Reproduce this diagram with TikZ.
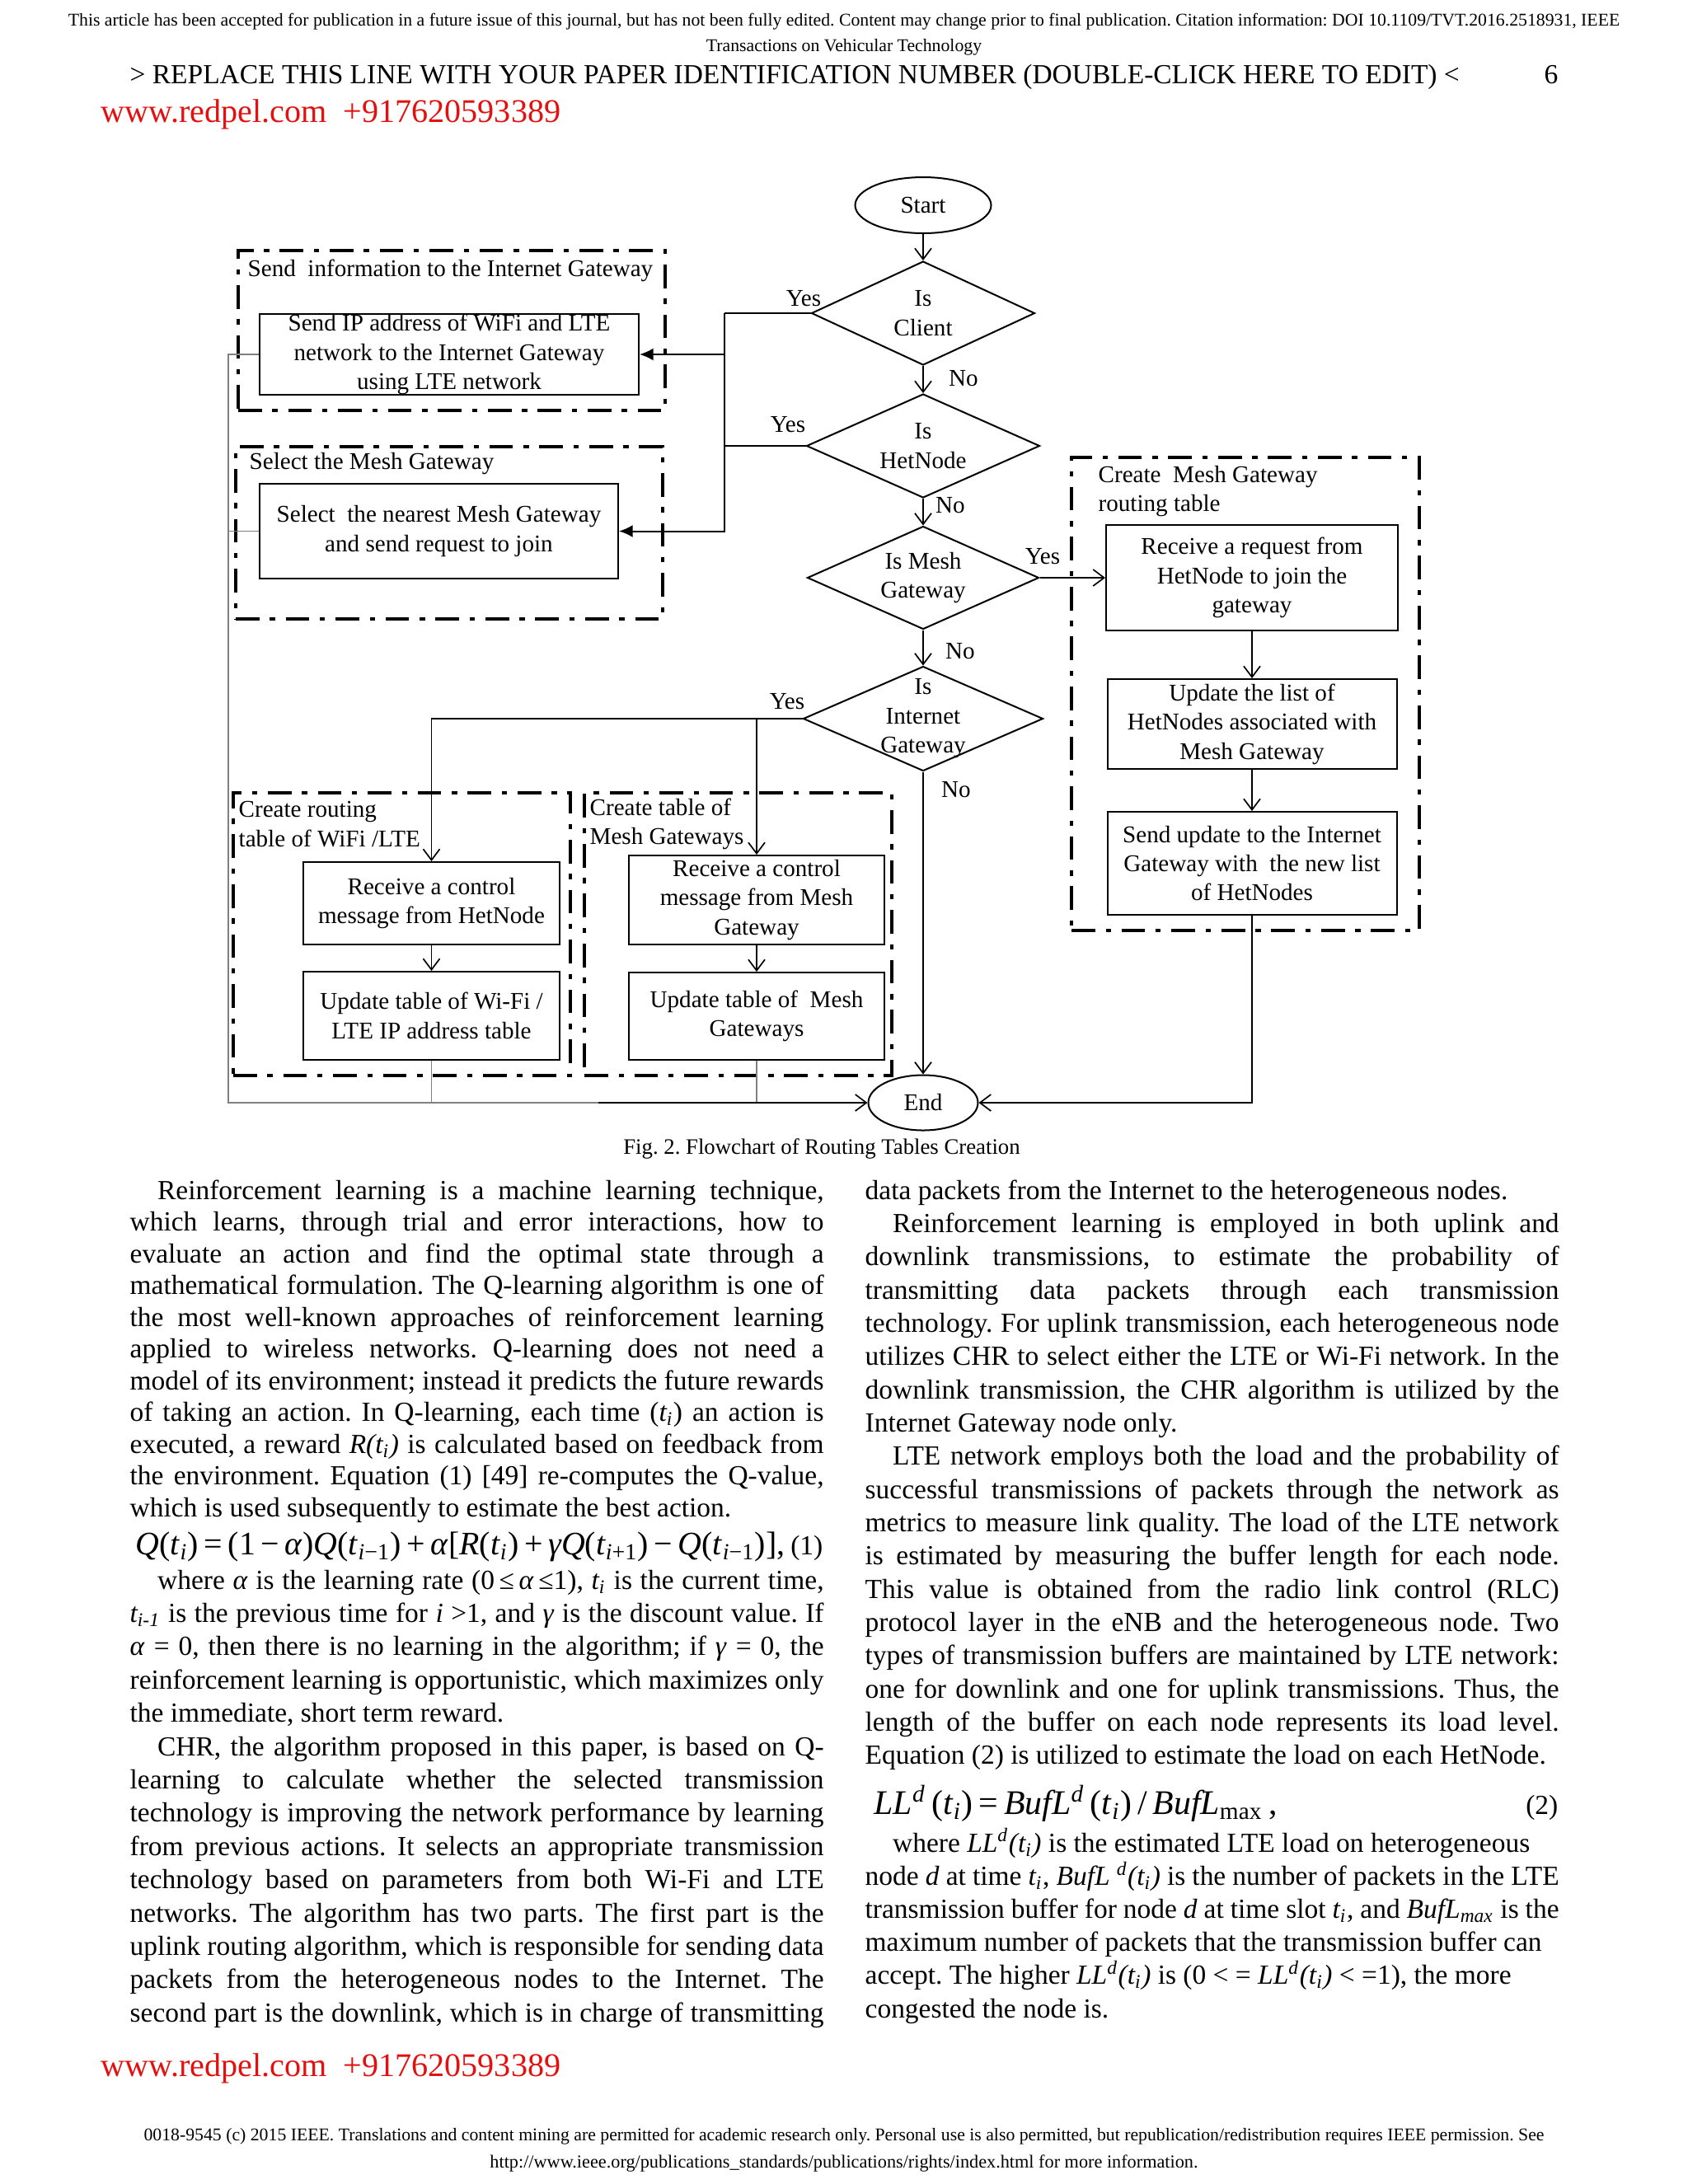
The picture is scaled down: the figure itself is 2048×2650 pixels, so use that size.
\documentclass[tikz,border=0pt]{standalone}
\usepackage{fontspec}
\setmainfont{Liberation Serif}
\usetikzlibrary{arrows.meta,shapes.geometric}
\definecolor{redpel}{RGB}{228,16,16}
\frenchspacing
\newcommand{\jl}[1]{\makebox[251.6pt][s]{#1}}
\newcommand{\flowfont}{\fontsize{8.7pt}{10.6pt}\selectfont}
\newcommand{\bodyfont}{\fontsize{10pt}{12pt}\selectfont}
\tikzset{
  boxsize/.style 2 args={minimum width=#1*0.29883pt, minimum height=#2*0.29883pt},
  hdr/.style={inner sep=0pt, anchor=base, font=\fontsize{6.5pt}{7.5pt}\selectfont},
  txt/.style={inner sep=0pt, anchor=base west, font=\bodyfont},
  eqn/.style={inner sep=0pt, anchor=base west, font=\fontsize{11.9pt}{14pt}\selectfont},
  mark red/.style={inner sep=0pt, anchor=base west, text=redpel, font=\fontsize{12pt}{14pt}\selectfont},
  box/.style={draw, line width=0.6pt, inner sep=0pt, align=center, font=\flowfont},
  decision/.style={diamond, draw, line width=0.6pt, inner sep=-8pt, align=center, font=\flowfont},
  terminal/.style={ellipse, draw, line width=0.6pt, inner sep=0pt, font=\flowfont},
  group/.style={draw, line width=1.3pt, dash pattern=on 8.6pt off 3.8pt on 1.9pt off 3.8pt, inner sep=0pt},
  grptitle/.style={anchor=west, align=left, inner sep=0pt, font=\flowfont},
  lbl/.style={inner sep=0pt, font=\flowfont},
  flow/.style={line width=0.5pt, -{Straight Barb[length=4pt,width=6pt]}},
  flowfill/.style={line width=0.6pt, -{Latex[length=5pt,width=4.5pt]}},
  wire/.style={line width=0.6pt},
  greyline/.style={draw=gray, line width=0.5pt}
}
\begin{document}
\begin{tikzpicture}[x=0.29883pt, y=-0.29883pt]
\node[hdr] (hdr1) at (1024,31) {This article has been accepted for publication in a future issue of this journal, but has not been fully edited. Content may change prior to final publication. Citation information: DOI 10.1109/TVT.2016.2518931, IEEE};
\node[hdr] (hdr2) at (1024,62) {Transactions on Vehicular Technology};
\node[txt] (hdr3) at (157,101) {> REPLACE THIS LINE WITH YOUR PAPER IDENTIFICATION NUMBER (DOUBLE-CLICK HERE TO EDIT) <};
\node[txt, anchor=base] (pageno) at (1882,101) {6};
\node[mark red] (redtop) at (122,148) {www.redpel.com\ \ +917620593389};

\node[group, boxsize={518}{194}] (gsend) at (548,401) {};
\node[group, boxsize={518}{209}] (gsel) at (545,646.5) {};
\node[group, boxsize={409}{343}] (gwifi) at (487.5,1133.5) {};
\node[group, boxsize={373}{343}] (gmesh) at (895.5,1133.5) {};
\node[group, boxsize={422}{574}] (gright) at (1511,842) {};
\node[grptitle] (tsend) at (300,328) {Send\ \ information to the Internet Gateway};
\node[grptitle] (tsel) at (302,563) {Select the Mesh Gateway};
\node[grptitle] (twifi) at (289,1000) {Create routing\\table of WiFi /LTE};
\node[grptitle] (tmesh) at (715,1000) {Create table of\\Mesh Gateways};
\node[grptitle] (tright) at (1332,596) {Create\ \ Mesh Gateway\\routing table};

\node[terminal, boxsize={165}{68}] (start) at (1120,249) {Start};
\node[decision, boxsize={271}{126}] (client) at (1120,380) {Is\\Client};
\node[decision, boxsize={283}{126}] (hetnode) at (1120,541) {Is\\HetNode};
\node[decision, boxsize={281}{125}] (meshgw) at (1120,701) {Is Mesh\\Gateway};
\node[decision, boxsize={291}{127}] (inetgw) at (1120,872) {Is\\Internet\\Gateway};
\node[terminal, boxsize={133}{67}] (stop) at (1120,1338) {End};

\node[box, boxsize={460}{98}] (sendip) at (545,430) {Send IP address of WiFi and LTE\\network to the Internet Gateway\\using LTE network};
\node[box, boxsize={435}{115}] (selmesh) at (532.5,644.5) {Select\ \ the nearest Mesh Gateway\\and send request to join};
\node[box, boxsize={311}{100}] (rcvhet) at (523.5,1096) {Receive a control\\message from HetNode};
\node[box, boxsize={311}{107}] (updwifi) at (523.5,1232.5) {Update table of Wi-Fi /\\LTE IP address table};
\node[box, boxsize={310}{108}] (rcvmesh) at (918,1092) {Receive a control\\message from Mesh\\Gateway};
\node[box, boxsize={310}{106}] (updmesh) at (918,1233) {Update table of\ \ Mesh\\Gateways};
\node[box, boxsize={354}{128}] (rcvreq) at (1519,701) {Receive a request from\\HetNode to join the\\gateway};
\node[box, boxsize={351}{109}] (updlist) at (1519,878.5) {Update the list of\\HetNodes associated with\\Mesh Gateway};
\node[box, boxsize={351}{125}] (sendupd) at (1519,1047.5) {Send update to the Internet\\Gateway with\ \ the new list\\of HetNodes};

\node[lbl] (yes1) at (975,362) {Yes};
\node[lbl] (no1) at (1169,459) {No};
\node[lbl] (yes2) at (956,515) {Yes};
\node[lbl] (no2) at (1153,613) {No};
\node[lbl] (yes3) at (1265,675) {Yes};
\node[lbl] (no3) at (1165,790) {No};
\node[lbl] (yes4) at (955,851) {Yes};
\node[lbl] (no4) at (1160,958) {No};

\coordinate (bus) at (879,380);
\coordinate (gl) at (277,1338);
\coordinate (gm) at (726,1338);
\draw[flow] (start) -- (client);
\draw[flow] (client) -- (hetnode);
\draw[flow] (hetnode) -- (meshgw);
\draw[flow] (meshgw) -- (inetgw);
\draw[flow] (inetgw) -- (stop);
\draw[wire] (client.west) -- (bus);
\draw[flowfill] (bus) |- (selmesh.east);
\draw[flowfill] (bus |- sendip.east) -- (sendip.east);
\draw[wire] (hetnode.west) -- (hetnode.west -| bus);
\draw[flow] (meshgw.east) -- (rcvreq.west);
\draw[flow] (rcvreq) -- (updlist);
\draw[flow] (updlist) -- (sendupd);
\draw[flow] (sendupd.south) |- (stop.east);
\draw[flow] (inetgw.west) -| (rcvhet.north);
\draw[flow] (inetgw.west -| rcvmesh.north) -- (rcvmesh.north);
\draw[flow] (rcvhet) -- (updwifi);
\draw[flow] (rcvmesh) -- (updmesh);
\draw[greyline] (sendip.west) -| (gl) -- (gm);
\draw[greyline] (selmesh.west) -- (selmesh.west -| gl);
\draw[greyline] (updwifi.south) -- (updwifi.south |- gl);
\draw[greyline] (updmesh.south) -- (updmesh.south |- gl);
\draw[flow] (gm) -- (stop.west);
\node[inner sep=0pt, anchor=base, font=\fontsize{8pt}{9.6pt}\selectfont] (caption) at (997,1400) {Fig. 2. Flowchart of Routing Tables Creation};

\node[txt] (la1) at (157,1455) {\jl{\hspace*{10pt}Reinforcement learning is a machine learning technique,}};
\node[txt] (la2) at (157,1493.5) {\jl{which learns, through trial and error interactions, how to}};
\node[txt] (la3) at (157,1532) {\jl{evaluate an action and find the optimal state through a}};
\node[txt] (la4) at (157,1570.5) {\jl{mathematical formulation. The Q-learning algorithm is one of}};
\node[txt] (la5) at (157,1609) {\jl{the most well-known approaches of reinforcement learning}};
\node[txt] (la6) at (157,1647.5) {\jl{applied to wireless networks. Q-learning does not need a}};
\node[txt] (la7) at (157,1686) {\jl{model of its environment; instead it predicts the future rewards}};
\node[txt] (la8) at (157,1724.5) {\jl{of taking an action. In Q-learning, each time (\textit{t\textsubscript{i}}) an action is}};
\node[txt] (la9) at (157,1763) {\jl{executed, a reward \textit{R(t\textsubscript{i})} is calculated based on feedback from}};
\node[txt] (la10) at (157,1801.5) {\jl{the environment. Equation (1) [49] re-computes the Q-value,}};
\node[txt] (la11) at (157,1840) {which is used subsequently to estimate the best action.};
\node[eqn] (eq1) at (164,1886) {\textit{Q}(\textit{t}\textsubscript{\textit{i}})\,=\,(1\,−\,\textit{α})\textit{Q}(\textit{t}\textsubscript{\textit{i}−1})\,+\,\textit{α}[\textit{R}(\textit{t}\textsubscript{\textit{i}})\,+\,\textit{γQ}(\textit{t}\textsubscript{\textit{i}+1})\,−\,\textit{Q}(\textit{t}\textsubscript{\textit{i}−1})],};
\node[txt, anchor=base east] (eq1no) at (999,1886) {(1)};
\node[txt] (lb1) at (157,1928) {\jl{\hspace*{10pt}where \textit{α} is the learning rate (0\,≤\,\textit{α}\,≤1), \textit{t\textsubscript{i}} is the current time,}};
\node[txt] (lb2) at (157,1968.4) {\jl{\textit{t\textsubscript{i-1}} is the previous time for \textit{i} >1, and \textit{γ} is the discount value. If}};
\node[txt] (lb3) at (157,2008.8) {\jl{\textit{α} = 0, then there is no learning in the algorithm; if \textit{γ} = 0, the}};
\node[txt] (lb4) at (157,2049.2) {\jl{reinforcement learning is opportunistic, which maximizes only}};
\node[txt] (lb5) at (157,2089.6) {the immediate, short term reward.};
\node[txt] (lb6) at (157,2130) {\jl{\hspace*{10pt}CHR, the algorithm proposed in this paper, is based on Q-}};
\node[txt] (lb7) at (157,2170.4) {\jl{learning to calculate whether the selected transmission}};
\node[txt] (lb8) at (157,2210.8) {\jl{technology is improving the network performance by learning}};
\node[txt] (lb9) at (157,2251.2) {\jl{from previous actions. It selects an appropriate transmission}};
\node[txt] (lb10) at (157,2291.6) {\jl{technology based on parameters from both Wi-Fi and LTE}};
\node[txt] (lb11) at (157,2332) {\jl{networks. The algorithm has two parts. The first part is the}};
\node[txt] (lb12) at (157,2372.4) {\jl{uplink routing algorithm, which is responsible for sending data}};
\node[txt] (lb13) at (157,2412.8) {\jl{packets from the heterogeneous nodes to the Internet. The}};
\node[txt] (lb14) at (157,2453.2) {\jl{second part is the downlink, which is in charge of transmitting}};

\node[txt] (ra1) at (1049,1455) {data packets from the Internet to the heterogeneous nodes.};
\node[txt] (ra2) at (1049,1495.35) {\jl{\hspace*{10pt}Reinforcement learning is employed in both uplink and}};
\node[txt] (ra3) at (1049,1535.7) {\jl{downlink transmissions, to estimate the probability of}};
\node[txt] (ra4) at (1049,1576.05) {\jl{transmitting data packets through each transmission}};
\node[txt] (ra5) at (1049,1616.4) {\jl{technology. For uplink transmission, each heterogeneous node}};
\node[txt] (ra6) at (1049,1656.75) {\jl{utilizes CHR to select either the LTE or Wi-Fi network. In the}};
\node[txt] (ra7) at (1049,1697.1) {\jl{downlink transmission, the CHR algorithm is utilized by the}};
\node[txt] (ra8) at (1049,1737.45) {Internet Gateway node only.};
\node[txt] (ra9) at (1049,1777.8) {\jl{\hspace*{10pt}LTE network employs both the load and the probability of}};
\node[txt] (ra10) at (1049,1818.15) {\jl{successful transmissions of packets through the network as}};
\node[txt] (ra11) at (1049,1858.5) {\jl{metrics to measure link quality. The load of the LTE network}};
\node[txt] (ra12) at (1049,1898.85) {\jl{is estimated by measuring the buffer length for each node.}};
\node[txt] (ra13) at (1049,1939.2) {\jl{This value is obtained from the radio link control (RLC)}};
\node[txt] (ra14) at (1049,1979.55) {\jl{protocol layer in the eNB and the heterogeneous node. Two}};
\node[txt] (ra15) at (1049,2019.9) {\jl{types of transmission buffers are maintained by LTE network:}};
\node[txt] (ra16) at (1049,2060.25) {\jl{one for downlink and one for uplink transmissions. Thus, the}};
\node[txt] (ra17) at (1049,2100.6) {\jl{length of the buffer on each node represents its load level.}};
\node[txt] (ra18) at (1049,2140.95) {Equation (2) is utilized to estimate the load on each HetNode.};
\node[eqn] (eq2) at (1060,2201) {\fontsize{12.5pt}{14pt}\selectfont\textit{LL}\textsuperscript{\textit{d}}\,(\textit{t}\textsubscript{\textit{i}})\,=\,\textit{BufL}\textsuperscript{\textit{d}}\,(\textit{t}\textsubscript{\textit{i}})\,/\,\textit{BufL}\textsubscript{max}\,,};
\node[txt, anchor=base east] (eq2no) at (1891,2201) {(2)};
\node[txt] (rb1) at (1049,2247) {\hspace*{10pt}where \textit{LL\textsuperscript{d}(t\textsubscript{i})} is the estimated LTE load on heterogeneous};
\node[txt] (rb2) at (1049,2287.2) {\jl{node \textit{d} at time \textit{t\textsubscript{i}}, \textit{BufL \textsuperscript{d}(t\textsubscript{i})} is the number of packets in the LTE}};
\node[txt] (rb3) at (1049,2327.4) {\jl{transmission buffer for node \textit{d} at time slot \textit{t\textsubscript{i}}, and \textit{BufL\textsubscript{max}} is the}};
\node[txt] (rb4) at (1049,2367.6) {maximum number of packets that the transmission buffer can};
\node[txt] (rb5) at (1049,2407.8) {accept. The higher \textit{LL\textsuperscript{d}(t\textsubscript{i})} is (0 < = \textit{LL\textsuperscript{d}(t\textsubscript{i})} < =1), the more};
\node[txt] (rb6) at (1049,2448) {congested the node is.};

\node[mark red] (redbot) at (122,2519) {www.redpel.com\ \ +917620593389};
\node[hdr] (foot1) at (1024,2597) {0018-9545 (c) 2015 IEEE. Translations and content mining are permitted for academic research only. Personal use is also permitted, but republication/redistribution requires IEEE permission. See};
\node[hdr, font=\fontsize{6.65pt}{7.5pt}\selectfont] (foot2) at (1024,2630) {http://www.ieee.org/publications\_standards/publications/rights/index.html for more information.};
\path (0,0) rectangle (2048,2650);
\end{tikzpicture}
\end{document}
